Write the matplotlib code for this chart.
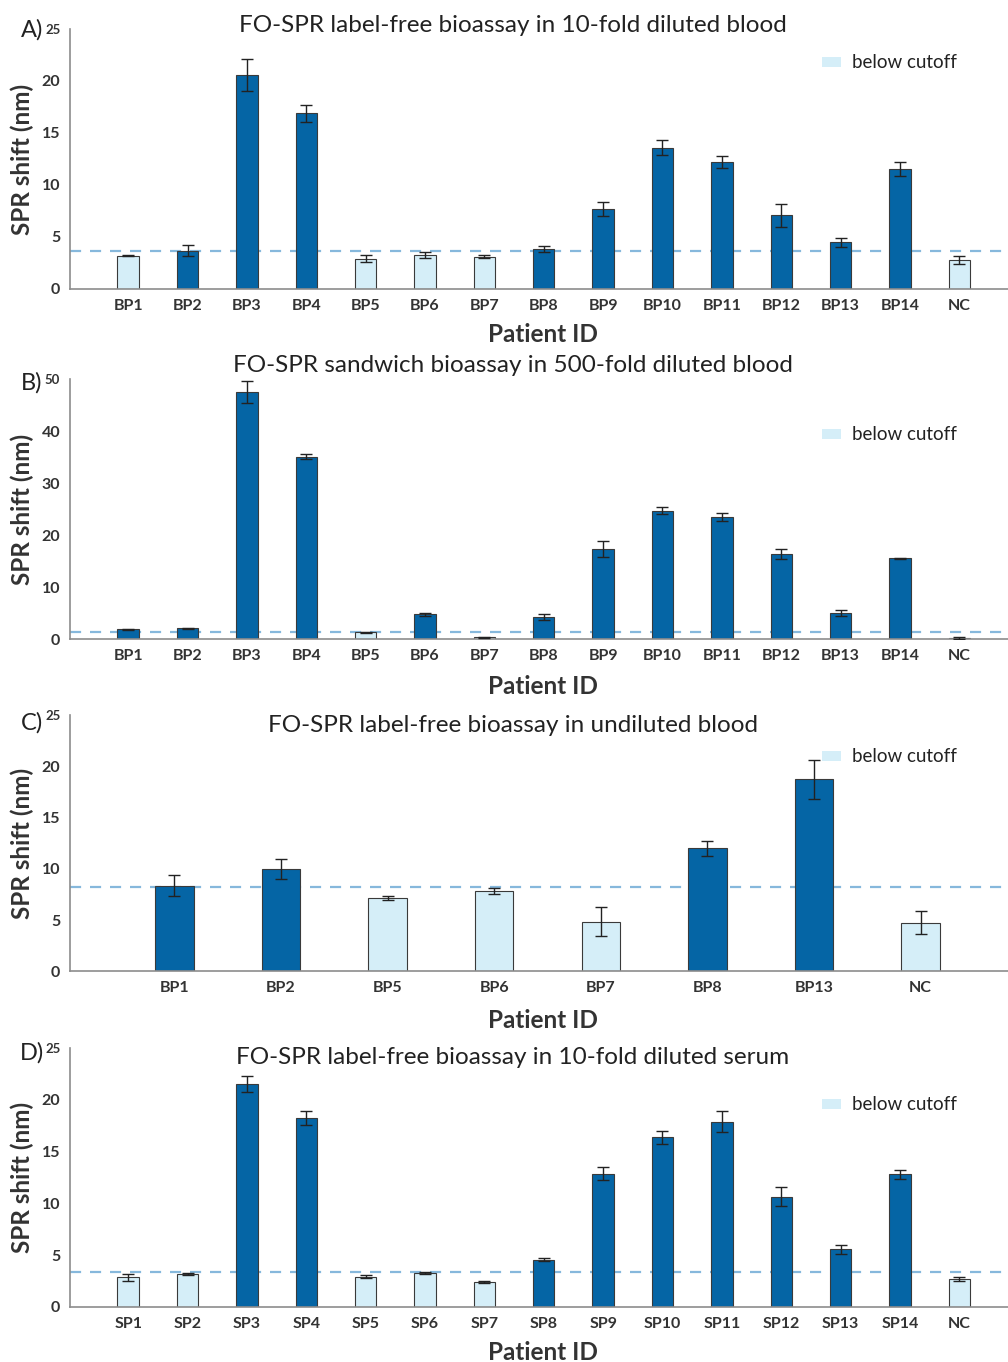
import matplotlib
matplotlib.use("Agg")
import matplotlib.pyplot as plt
from matplotlib.patches import Patch

plt.rcParams['font.family'] = ['Lato', 'DejaVu Sans']

# ---------------- data ----------------
cats_a = ["BP1", "BP2", "BP3", "BP4", "BP5", "BP6", "BP7", "BP8", "BP9", "BP10", "BP11", "BP12", "BP13", "BP14", "NC"]
vals_a = [3.2, 3.7, 20.6, 16.9, 2.9, 3.3, 3.1, 3.85, 7.65, 13.6, 12.2, 7.1, 4.5, 11.55, 2.8]
errs_a = [0.06, 0.55, 1.55, 0.8, 0.35, 0.3, 0.15, 0.3, 0.67, 0.7, 0.6, 1.1, 0.45, 0.65, 0.35]
low_a = [True, False, False, False, True, True, True, False, False, False, False, False, False, False, True]
cut_a = 3.68

cats_b = ["BP1", "BP2", "BP3", "BP4", "BP5", "BP6", "BP7", "BP8", "BP9", "BP10", "BP11", "BP12", "BP13", "BP14", "NC"]
vals_b = [1.9, 2.1, 47.6, 35.1, 1.4, 4.8, 0.4, 4.35, 17.4, 24.7, 23.5, 16.4, 5.05, 15.6, 0.3]
errs_b = [0.08, 0.15, 2.1, 0.5, 0.1, 0.35, 0.1, 0.6, 1.6, 0.65, 0.7, 0.9, 0.65, 0.1, 0.2]
low_b = [False, False, False, False, True, False, True, False, False, False, False, False, False, False, True]
cut_b = 1.35

cats_c = ["BP1", "BP2", "BP5", "BP6", "BP7", "BP8", "BP13", "NC"]
vals_c = [8.35, 10.0, 7.15, 7.8, 4.85, 12.0, 18.75, 4.75]
errs_c = [1.05, 0.95, 0.2, 0.3, 1.45, 0.75, 1.9, 1.15]
low_c = [False, False, True, True, True, False, False, True]
cut_c = 8.18

cats_d = ["SP1", "SP2", "SP3", "SP4", "SP5", "SP6", "SP7", "SP8", "SP9", "SP10", "SP11", "SP12", "SP13", "SP14", "NC"]
vals_d = [2.85, 3.2, 21.5, 18.2, 2.92, 3.28, 2.38, 4.56, 12.85, 16.35, 17.85, 10.65, 5.55, 12.8, 2.7]
errs_d = [0.35, 0.12, 0.75, 0.7, 0.12, 0.1, 0.08, 0.12, 0.6, 0.65, 1.0, 0.9, 0.45, 0.45, 0.2]
low_d = [True, True, False, False, True, True, True, False, False, False, False, False, False, False, True]
cut_d = 3.375

titles = ["FO-SPR label-free bioassay in 10-fold diluted blood",
          "FO-SPR sandwich bioassay in 500-fold diluted blood",
          "FO-SPR label-free bioassay in undiluted blood",
          "FO-SPR label-free bioassay in 10-fold diluted serum"]
panel_labels = ["A)", "B)", "C)", "D)"]
ymaxes = [25, 50, 25, 25]
ysteps = [5, 10, 5, 5]

DARK = "#0565A5"
LIGHT = "#D5EEF8"
EDGE = "#3a3a3a"
CUT = "#86B8DC"
TXT = "#333333"

W, H = 1008, 1362
fig = plt.figure(figsize=(W / 100, H / 100), dpi=100)

# (top_px, bottom_px, title_y_px, label_y_px, legend_y_px, xlabel_y_px)
layout = [
    (29, 289, 25, 30, 63, 334),
    (379.3, 639.3, 366, 383, 435, 686),
    (715, 971.3, 726, 723, 757, 1020),
    (1047.7, 1307, 1058, 1053, 1105, 1352),
]
left_px = 70

panels = [
    (cats_a, vals_a, errs_a, low_a, cut_a),
    (cats_b, vals_b, errs_b, low_b, cut_b),
    (cats_c, vals_c, errs_c, low_c, cut_c),
    (cats_d, vals_d, errs_d, low_d, cut_d),
]

for i, (cats, vals, errs, low, cut) in enumerate(panels):
    top, bot, ty, ly, legy, xly = layout[i]
    ax = fig.add_axes([left_px / W, 1 - bot / H, 1 - left_px / W, (bot - top) / H])
    n = len(cats)
    x = list(range(n))
    colors = [LIGHT if l else DARK for l in low]
    ax.bar(x, vals, width=0.36, color=colors, edgecolor=EDGE, linewidth=0.8, zorder=2)
    ax.errorbar(x, vals, yerr=errs, fmt='none', ecolor="#222222", elinewidth=1.0,
                capsize=4, capthick=1.0, zorder=3)
    ax.axhline(cut, color=CUT, linestyle=(0, (5, 4)), linewidth=1.6, zorder=1)
    ax.set_ylim(0, ymaxes[i])
    ax.set_xlim(-0.98, n - 0.18)
    ax.set_yticks(range(0, ymaxes[i] + 1, ysteps[i]))
    ax.set_xticks(x)
    ax.set_xticklabels(cats, fontsize=11.5, fontweight='bold', color=TXT)
    for t in ax.get_yticklabels():
        t.set_fontsize(11.5)
        t.set_fontweight('bold')
        t.set_color(TXT)
    ax.get_yticklabels()[-1].set_fontsize(9.5)
    ax.tick_params(axis='both', length=0)
    ax.tick_params(axis='x', pad=7)
    ax.tick_params(axis='y', pad=7)
    for s in ['top', 'right']:
        ax.spines[s].set_visible(False)
    for s in ['left', 'bottom']:
        ax.spines[s].set_color("#8c8c8c")
        ax.spines[s].set_linewidth(1.2)
    ax.set_ylabel("SPR shift (nm)", fontsize=17.5, fontweight='bold', color=TXT, va='center')
    ax.yaxis.set_label_coords((22 - left_px) / (W - left_px), 0.5)
    ax.set_xlabel("Patient ID", fontsize=17.5, fontweight='bold', color=TXT)
    ax.xaxis.set_label_coords((543 - left_px) / (W - left_px), (bot - xly) / (bot - top))
    ax.xaxis.label.set_verticalalignment('center')
    fig.text(513 / W, 1 - ty / H, titles[i], fontsize=17.5, ha='center', va='center', color="#222222")
    fig.text(32 / W, 1 - ly / H, panel_labels[i], fontsize=17, ha='center', va='center', color="#222222")
    leg = ax.legend(handles=[Patch(facecolor=LIGHT, edgecolor='none', label='below cutoff')],
                    loc='center left',
                    bbox_to_anchor=((822 - left_px) / (W - left_px), (bot - legy) / (bot - top)),
                    frameon=False, fontsize=13.5, handlelength=1.0, handleheight=0.4,
                    handletextpad=0.6, borderpad=0, borderaxespad=0)
    for t in leg.get_texts():
        t.set_color("#222222")

fig.savefig("out.png", dpi=100)
